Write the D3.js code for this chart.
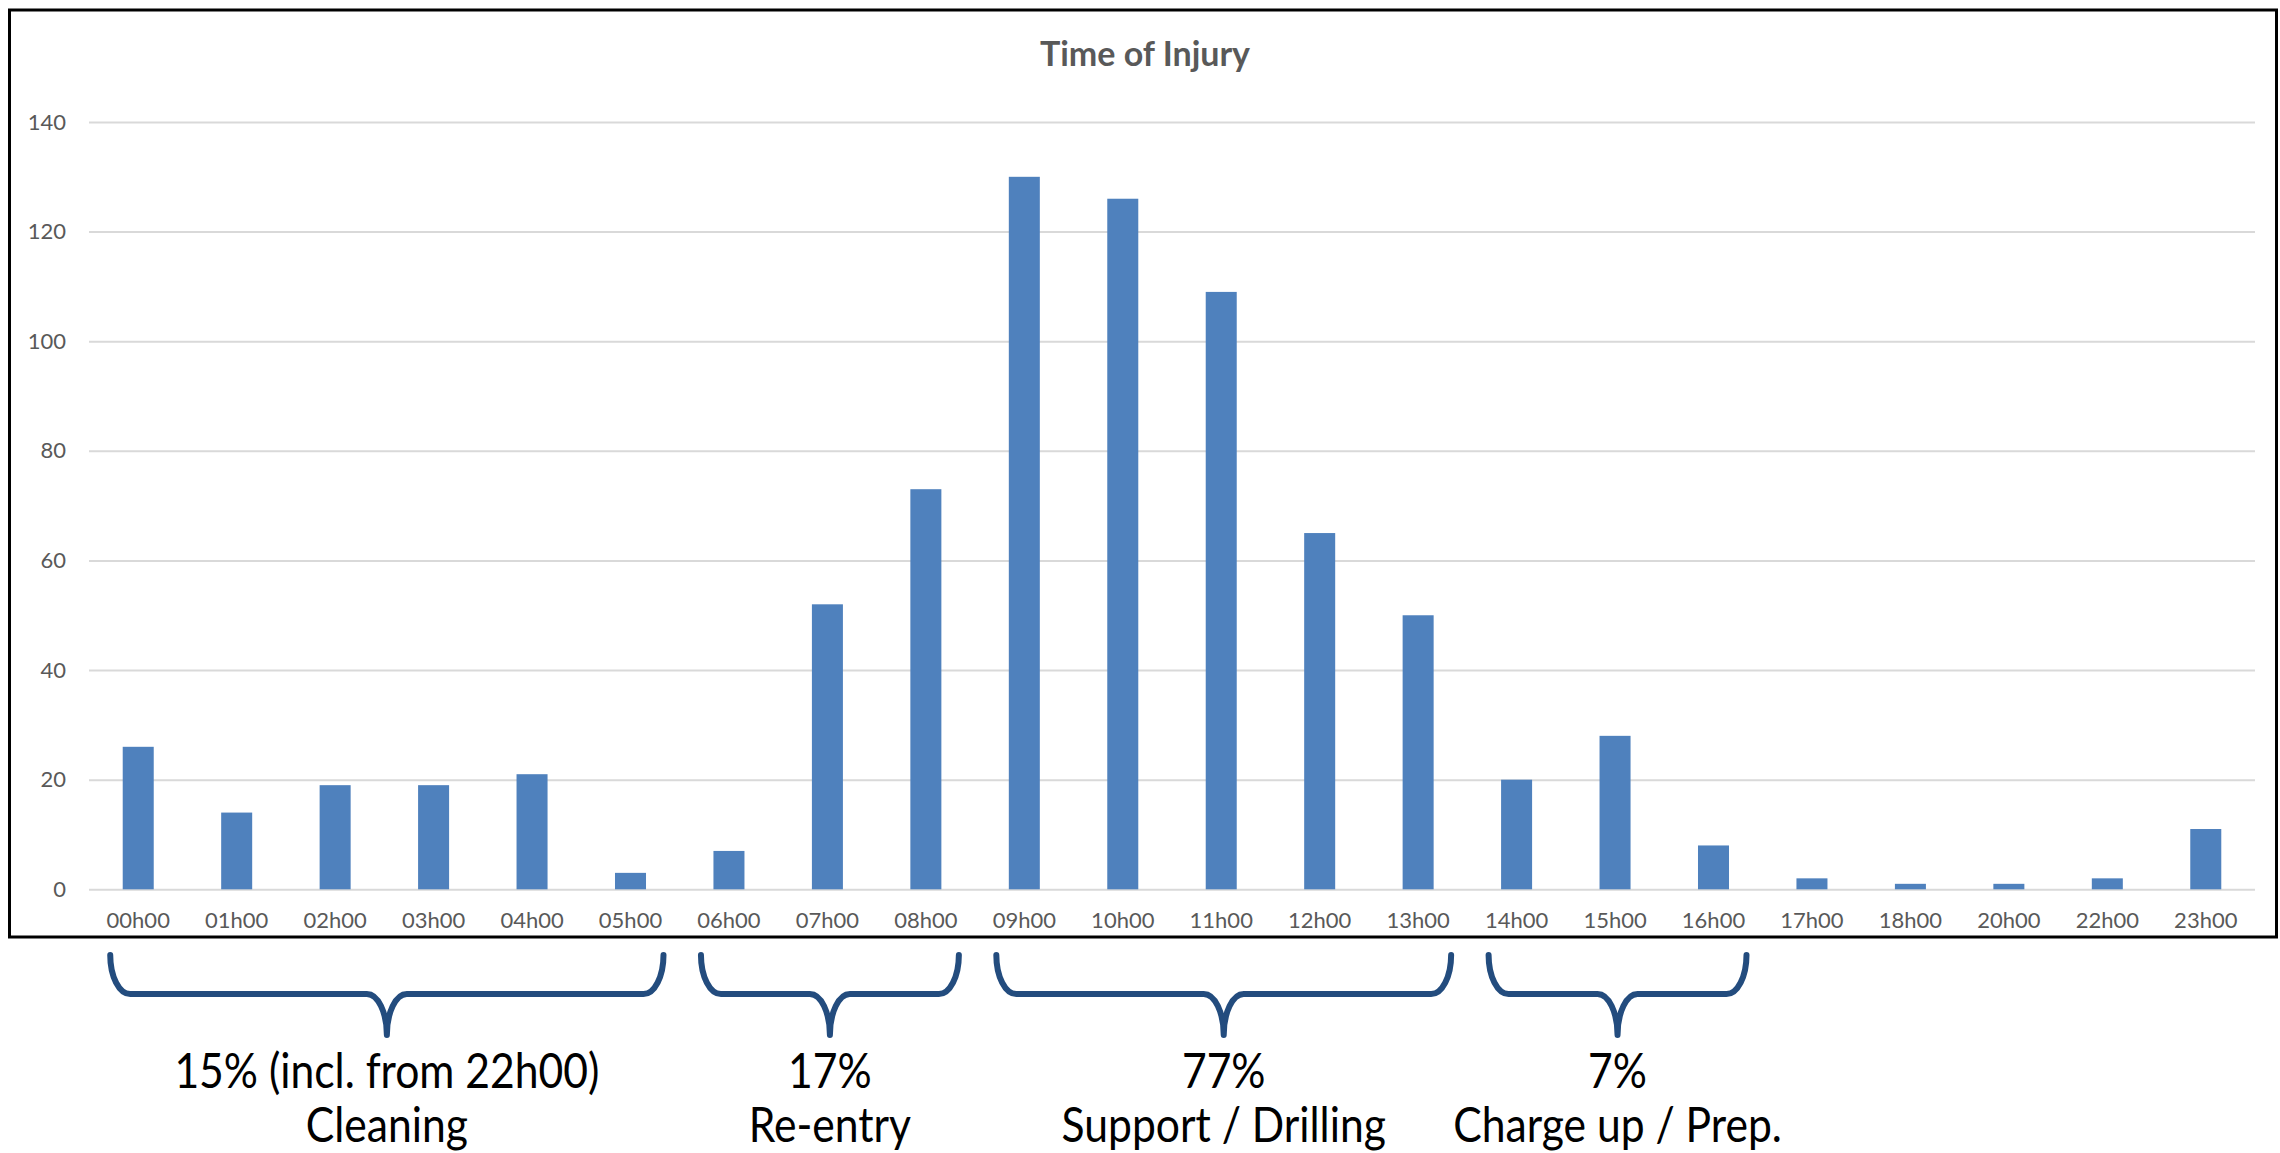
<!DOCTYPE html>
<html>
<head>
<meta charset="utf-8">
<script src="https://cdn.jsdelivr.net/npm/d3@7"></script>
<style>
  body { margin: 0; background: #fff; }
  svg { display: block; }
</style>
</head>
<body>
<script>
// hour slots as shown on the axis (19h00 and 21h00 have no data)
const categories = ["00h00", "01h00", "02h00", "03h00", "04h00", "05h00", "06h00", "07h00",
  "08h00", "09h00", "10h00", "11h00", "12h00", "13h00", "14h00", "15h00", "16h00",
  "17h00", "18h00", "20h00", "22h00", "23h00"];
const injuries = [26, 14, 19, 19, 21, 3, 7, 52, 73, 130, 126, 109, 65, 50, 20, 28, 8, 2, 1, 1, 2, 11];
const yTicks = [0, 20, 40, 60, 80, 100, 120, 140];

// shift phases marked with braces under the chart
const phaseFrom = ["00h00", "06h00", "09h00", "14h00"];
const phaseTo = ["05h00", "08h00", "13h00", "16h00"];
const phaseShare = ["15% (incl. from 22h00)", "17%", "77%", "7%"];
const phaseName = ["Cleaning", "Re-entry", "Support / Drilling", "Charge up / Prep."];

const W = 2280, H = 1153;
const plot = {left: 89, right: 2255, top: 122, bottom: 889.3};

const svg = d3.select("body").append("svg")
    .attr("width", W)
    .attr("height", H);

svg.append("rect").attr("width", W).attr("height", H).attr("fill", "#fff");

// chart area border
svg.append("rect")
    .attr("x", 9.5).attr("y", 10)
    .attr("width", 2267).attr("height", 927)
    .attr("fill", "none")
    .attr("stroke", "#000")
    .attr("stroke-width", 3);

const x = d3.scaleBand()
    .domain(categories)
    .range([plot.left, plot.right])
    .paddingInner(0.685)
    .paddingOuter(0.3425);

const y = d3.scaleLinear()
    .domain([0, 140])
    .range([plot.bottom, plot.top]);

// y axis + gridlines
svg.append("g")
    .attr("transform", `translate(${plot.left},0)`)
    .call(d3.axisLeft(y).tickValues(yTicks).tickSize(-(plot.right - plot.left)).tickPadding(23))
    .call(g => g.select(".domain").remove())
    .call(g => g.selectAll(".tick line").attr("stroke", "#d9d9d9").attr("stroke-width", 2))
    .call(g => g.selectAll(".tick text")
        .attr("fill", "#595959")
        .attr("font-family", "Lato, 'Open Sans', sans-serif")
        .attr("font-size", 22));

// bars
svg.selectAll(".bar")
    .data(injuries)
  .enter().append("rect")
    .attr("class", "bar")
    .attr("x", (d, i) => x(categories[i]))
    .attr("width", x.bandwidth())
    .attr("y", d => y(d))
    .attr("height", d => y(0) - y(d))
    .attr("fill", "#4f81bd");

// x axis labels
svg.append("g")
    .attr("transform", `translate(0,${plot.bottom})`)
    .call(d3.axisBottom(x).tickSize(0))
    .call(g => g.select(".domain").remove())
    .call(g => g.selectAll(".tick text")
        .attr("y", 39).attr("dy", null)
        .attr("fill", "#595959")
        .attr("font-family", "Lato, 'Open Sans', sans-serif")
        .attr("font-size", 22));

// title
svg.append("text")
    .attr("x", 1145).attr("y", 66)
    .attr("text-anchor", "middle")
    .attr("font-family", "Lato, 'Open Sans', sans-serif")
    .attr("font-weight", "bold")
    .attr("font-size", 34)
    .attr("fill", "#595959")
    .text("Time of Injury");

// braces
const braceTop = 955, braceMid = 994, braceTip = 1035;
const padL = 28, padR = 33, rx = 20;

function bracePath(x0, x1) {
  const t = (x0 + x1) / 2;
  const k = 0.552;
  return `M${x0},${braceTop}`
    + `C${x0},${braceTop + (braceMid - braceTop) * k} ${x0 + rx * (1 - k)},${braceMid} ${x0 + rx},${braceMid}`
    + `L${t - rx},${braceMid}`
    + `C${t - rx * (1 - k)},${braceMid} ${t},${braceTip - (braceTip - braceMid) * k} ${t},${braceTip}`
    + `C${t},${braceTip - (braceTip - braceMid) * k} ${t + rx * (1 - k)},${braceMid} ${t + rx},${braceMid}`
    + `L${x1 - rx},${braceMid}`
    + `C${x1 - rx * (1 - k)},${braceMid} ${x1},${braceTop + (braceMid - braceTop) * k} ${x1},${braceTop}`;
}

const braceStart = i => x(phaseFrom[i]) + x.bandwidth() / 2 - padL;
const braceEnd = i => x(phaseTo[i]) + x.bandwidth() / 2 + padR;
const phaseCenter = i => (braceStart(i) + braceEnd(i)) / 2;

const phases = svg.selectAll(".phase")
    .data(phaseFrom)
  .enter().append("g")
    .attr("class", "phase");

phases.append("path")
    .attr("d", (d, i) => bracePath(braceStart(i), braceEnd(i)))
    .attr("fill", "none")
    .attr("stroke", "#234c7e")
    .attr("stroke-width", 6)
    .attr("stroke-linecap", "round")
    .attr("stroke-linejoin", "round");

[phaseShare, phaseName].forEach((lines, row) => {
  phases.append("text")
      .attr("transform", (d, i) => `translate(${phaseCenter(i)},${row ? 1142 : 1088}) scale(0.87,1)`)
      .attr("text-anchor", "middle")
      .attr("font-family", "Lato, 'Open Sans', sans-serif")
      .attr("font-size", 49)
      .attr("fill", "#000")
      .text((d, i) => lines[i]);
});
</script>
</body>
</html>
